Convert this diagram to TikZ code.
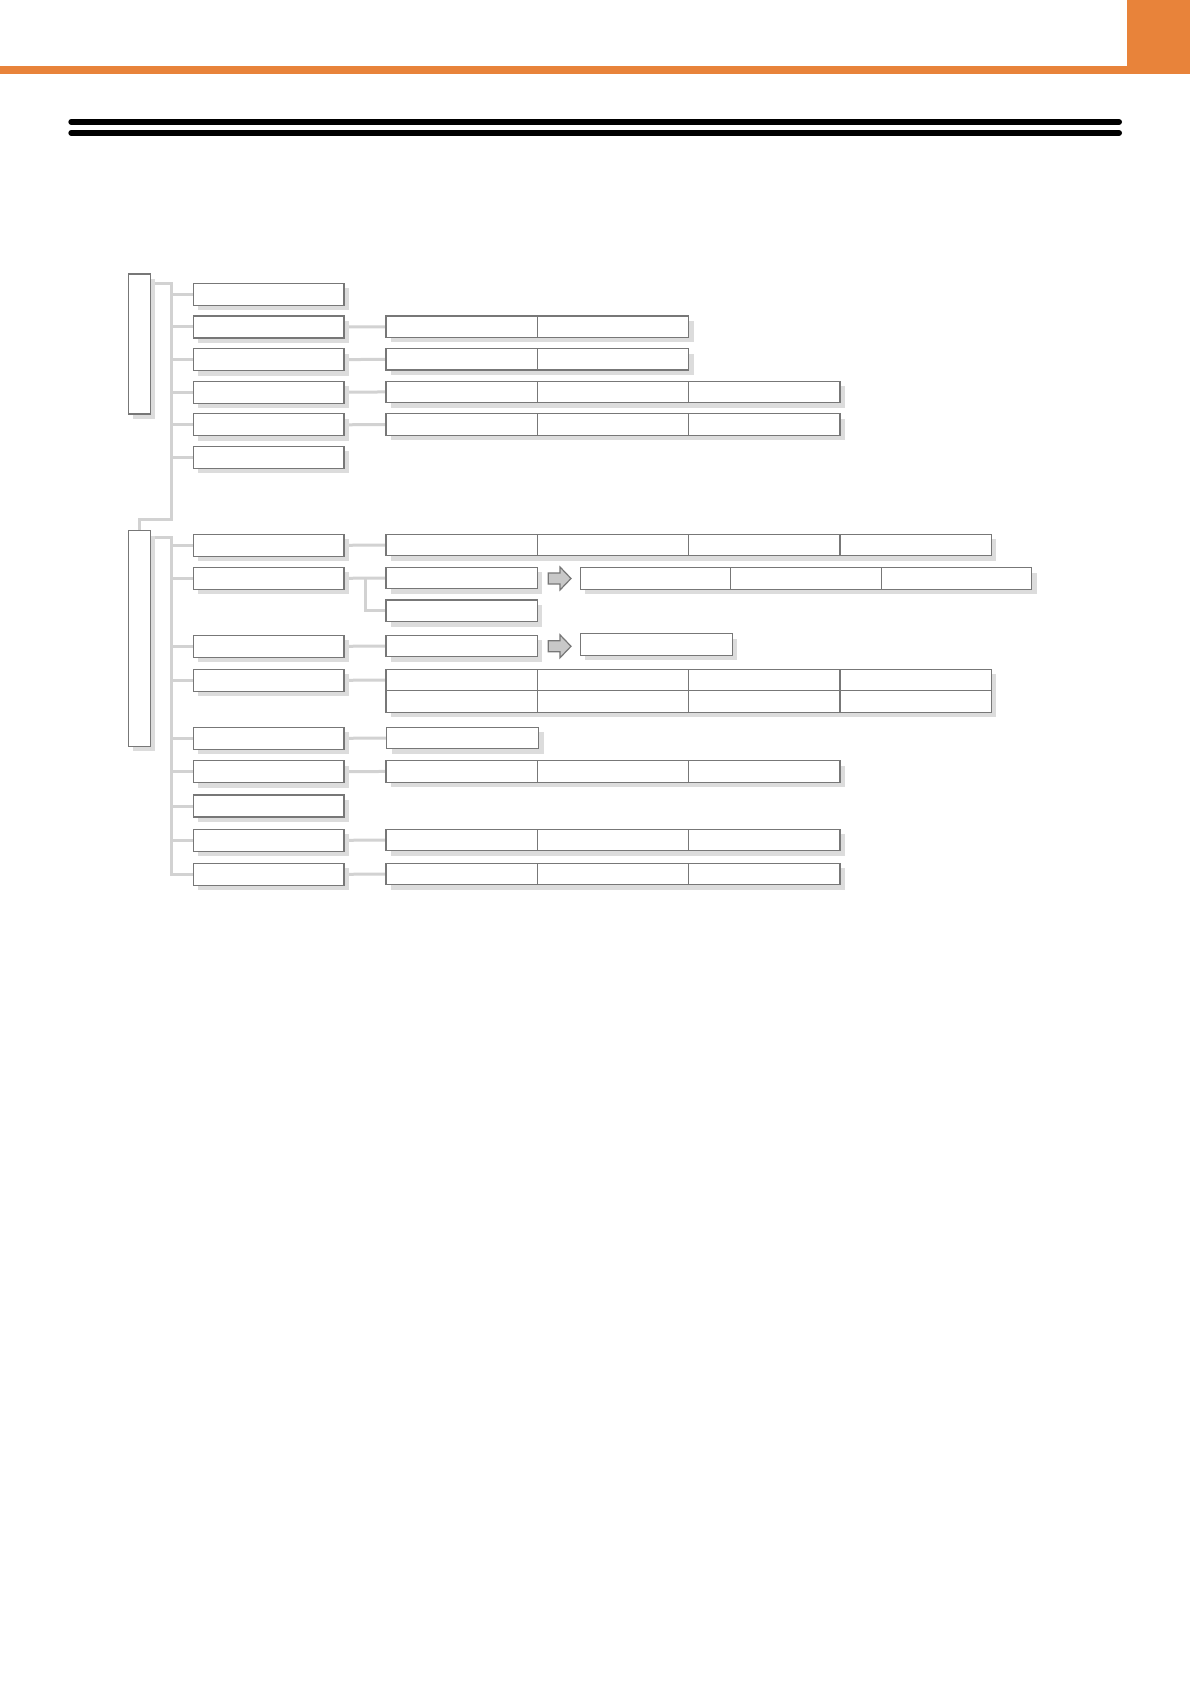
\documentclass[tikz,border=0pt]{standalone}
\usetikzlibrary{shadows}
\definecolor{orangeh}{HTML}{E8833A}
\definecolor{bordergray}{HTML}{777777}
\definecolor{shgray}{HTML}{DCDCDC}
\definecolor{conngray}{HTML}{D2D2D2}
\definecolor{arrowfill}{HTML}{C8C8C8}
\pgfdeclarelayer{bglayer}
\pgfdeclarelayer{connlayer}
\pgfsetlayers{bglayer,connlayer,main}
\begin{document}
\begin{tikzpicture}[x=0.5pt,y=-0.5pt,
  cellbox/.style={draw=bordergray, line width=0.6pt, fill=white, anchor=north west,
    inner sep=0pt, outer sep=0pt, minimum height=10.75pt, minimum width=75.65pt,
    drop shadow={opacity=1, fill=shgray, shadow xshift=2.5pt, shadow yshift=-2.5pt}},
  lvlone/.style={cellbox, minimum width=75.35pt, minimum height=11pt},
  tallbox/.style={cellbox, minimum width=11pt},
  conn/.style={draw=conngray, line width=1.5pt},
  blockarrow/.style={draw=bordergray, fill=arrowfill, line width=0.6pt, line join=miter}]
\useasboundingbox (0,0) rectangle (1190,1684);
\begin{pgfonlayer}{bglayer}
  \fill[white] (0,0) rectangle (1190,1684);
\end{pgfonlayer}

% header
\fill[orangeh] (0,66) rectangle (1190,74);
\fill[orangeh] (1126.7,0) rectangle (1190,74);
\draw[line width=3pt, line cap=round] (71.3,122) -- (1119,122);
\draw[line width=3pt, line cap=round] (71.3,133) -- (1119,133);

% tall boxes
\node[tallbox, minimum height=70pt] (A) at (128.3,274) {};
\node[tallbox, minimum height=107.8pt] (B) at (128.3,530.7) {};

% level one boxes
\foreach \n/\t in {a1/283.5,a2/316,a3/348.6,a4/381.2,a5/413.8,a6/446.4,
                   b1/534.3,b2/567.3,b3/635.3,b4/669.3,b5/727.3,b6/760.7,b7/795,b8/829.3,b9/863.3}
  \node[lvlone] (\n) at (193.3,\t) {};

% level two rows of cells
\foreach \r/\t/\k in {a2/316/1,a3/348.6/1,a4/381.2/2,a5/413.8/2,
                      b1/534.3/3,b4/669.3/3,b4x/690.7/3,b6/760.7/2,b8/829.3/2,b9/863.3/2}
  \foreach \i in {0,...,\k}
    \node[cellbox] (\r-\i) at ({386+151.3*\i},\t) {};

% single level two cells
\node[cellbox] (b2a) at (386,567.3) {};
\node[cellbox] (b2b) at (386,600) {};
\node[cellbox] (b3a) at (386,635.3) {};
\node[cellbox, minimum width=76pt] (b5a) at (386.5,727.3) {};

% level three cells
\foreach \i in {0,1,2}
  \node[cellbox, minimum width=75.25pt] (c2-\i) at ({580.3+150.5*\i},567.7) {};
\node[cellbox, minimum width=76pt] (c3) at (580.3,633.7) {};

% block arrows
\foreach \yc in {578.5,646.3}
  \draw[blockarrow] (548.3,\yc-5.5) -- (560,\yc-5.5) -- (560,\yc-11.5) -- (571,\yc)
     -- (560,\yc+11.5) -- (560,\yc+5.5) -- (548.3,\yc+5.5) -- cycle;

% connectors
\coordinate (t1) at (171.7,284);
\coordinate (bend) at (171.7,519);
\coordinate (t2) at (171.7,537);
\coordinate (jx) at (365,600);
\begin{pgfonlayer}{connlayer}
  \draw[conn] (A.east |- t1) -| (bend) -| (B.north);
  \foreach \n in {a1,a2,a3,a4,a5,a6}
    \draw[conn] (\n.west -| t1) -- (\n.west);
  \draw[conn] (B.east |- t2) -| (b9.west -| t2) -- (b9.west);
  \foreach \n in {b1,b2,b3,b4,b5,b6,b7,b8}
    \draw[conn] (\n.west -| t2) -- (\n.west);
  \foreach \n in {a2,a3,a4,a5,b1,b4,b6,b8,b9}
    \draw[conn] (\n.east) -- (\n-0.west);
  \draw[conn] (b2.east) -- (b2a.west);
  \draw[conn] (b2.east -| jx) |- (b2b.west);
  \draw[conn] (b3.east) -- (b3a.west);
  \draw[conn] (b5.east) -- (b5a.west);
\end{pgfonlayer}
\end{tikzpicture}
\end{document}
